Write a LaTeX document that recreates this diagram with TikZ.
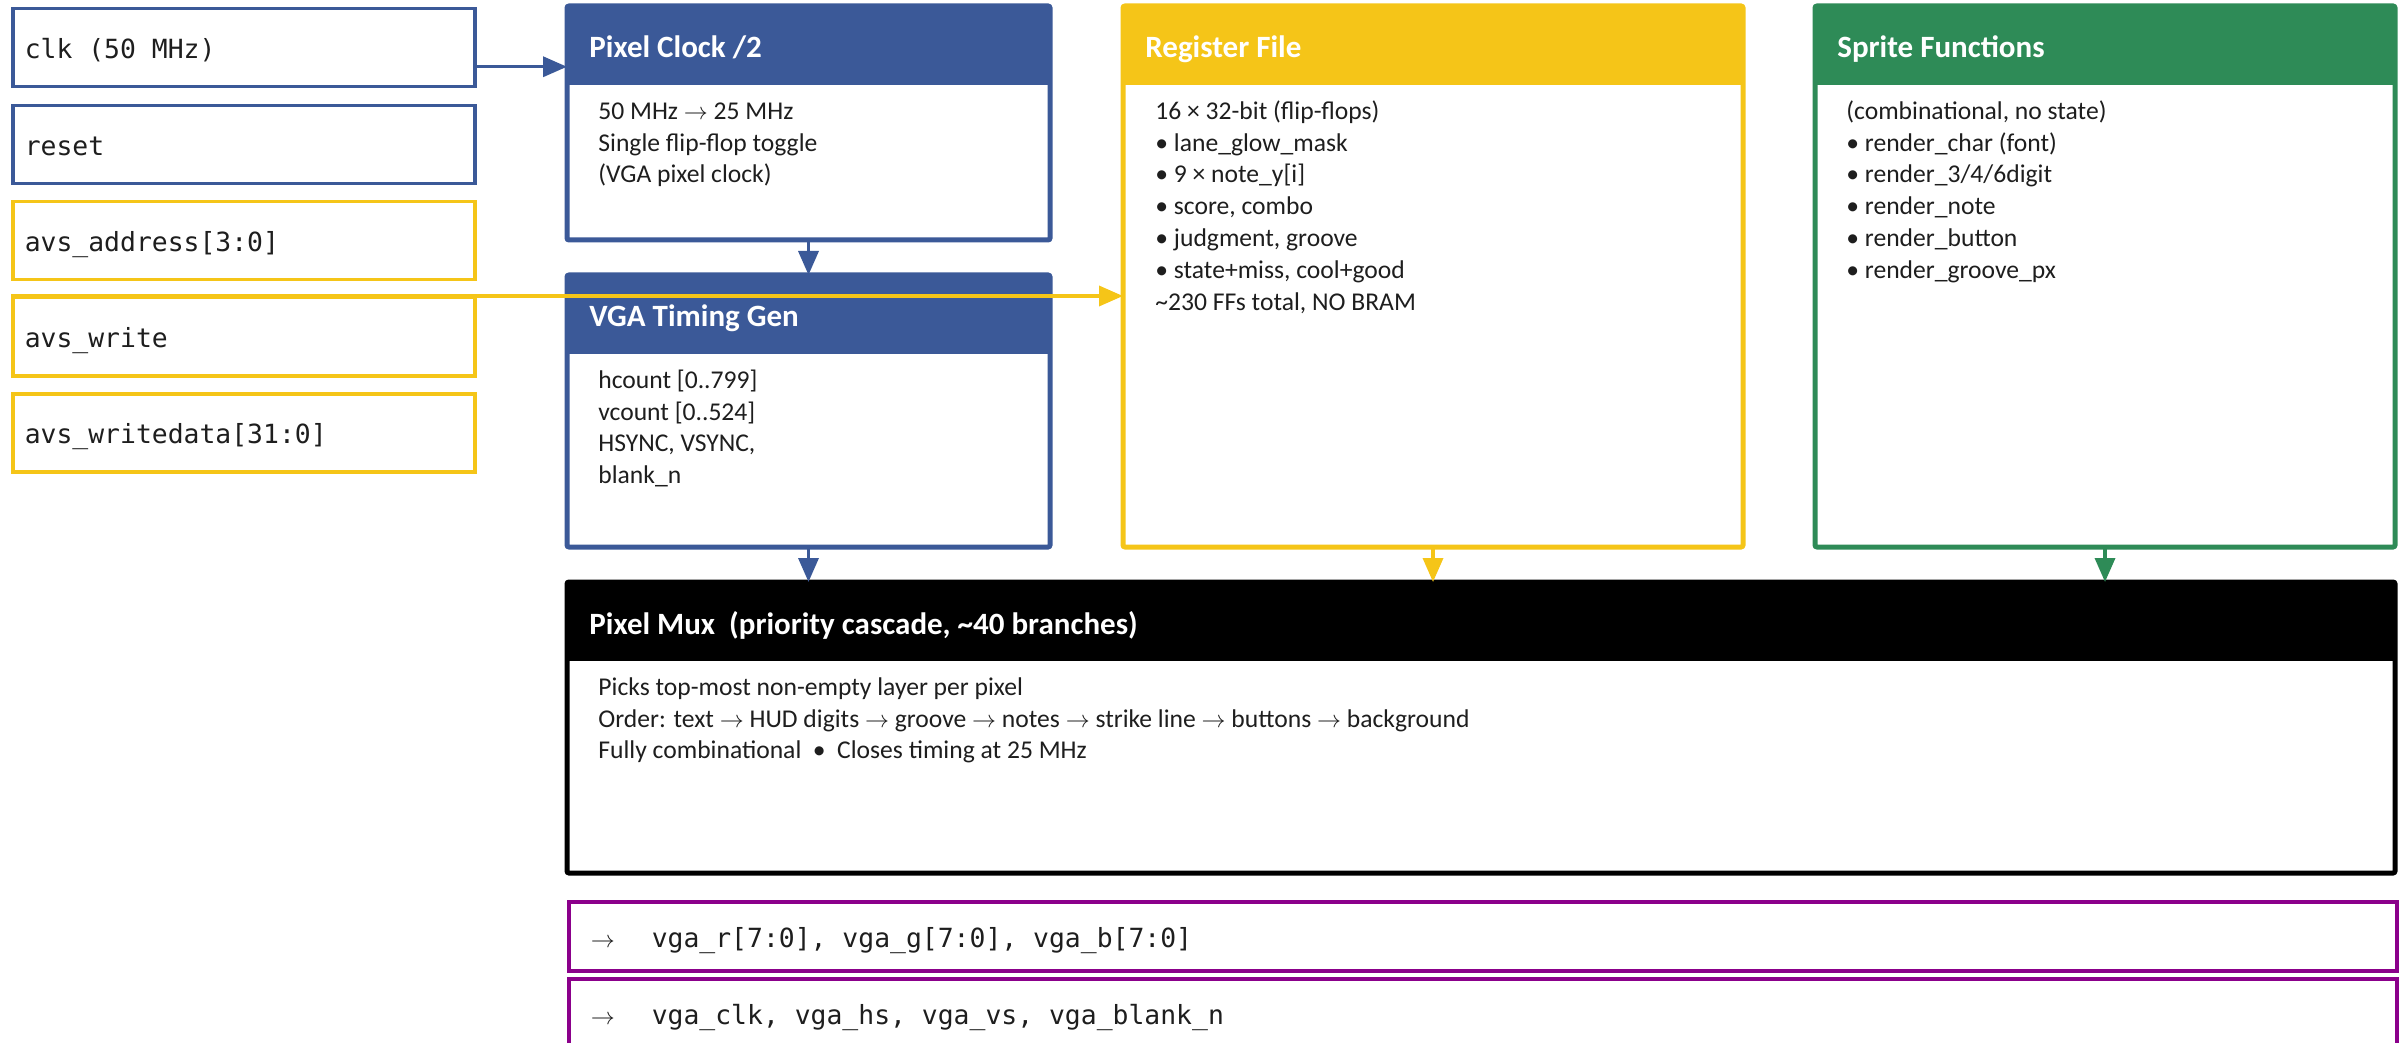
\documentclass[tikz,border=0pt]{standalone}
\usepackage{fontspec}
\setmainfont{Carlito}
\newfontfamily\codefont{DejaVu Sans Mono}
\usetikzlibrary{arrows.meta}

\definecolor{clkblue}{RGB}{59,89,152}
\definecolor{regyellow}{RGB}{245,197,24}
\definecolor{spritegreen}{RGB}{46,139,87}
\definecolor{outpurple}{RGB}{139,0,139}
\definecolor{inkgray}{RGB}{30,30,30}

\newcommand{\titlefont}{\fontsize{15.5pt}{18pt}\selectfont\bfseries}
\newcommand{\bodyfont}{\fontsize{12.8pt}{15.9pt}\selectfont}
\newcommand{\portfont}{\codefont\fontsize{13.2pt}{16pt}\selectfont}
% one full character cell of the mono font
\newcommand{\msp}{\hspace*{0.602em}}
\newcommand{\outarrow}{\makebox[30.5pt][l]{$\rightarrow$}}

\begin{document}
\begin{tikzpicture}[x=0.5pt, y=0.5pt,
    block/.style={draw=#1, line width=2.5pt, rounded corners=1pt, fill=white,
      inner sep=0pt, outer sep=0pt, anchor=north west},
    title/.style={text=white, font=\titlefont, anchor=base west, inner sep=0pt},
    body/.style={text=inkgray, font=\bodyfont, align=left, anchor=north west, inner sep=0pt},
    port/.style={draw=#1, line width=1.75pt, minimum width=231pt, minimum height=39pt,
      inner xsep=6pt, inner ysep=0pt, text width=219pt, align=left,
      text height=11pt, text depth=0pt, font=\portfont, text=inkgray, anchor=north west},
    outport/.style={port=outpurple, minimum width=914pt, minimum height=34.5pt,
      inner xsep=11pt, text width=892pt},
    link/.style={draw=#1, line width=1.75pt, -{Triangle[length=12pt, width=10pt]}}
  ]

    % --- Page frame ---
    \useasboundingbox (0,0) rectangle (2404,-1043);
    \clip (0,0) rectangle (2404,-1043);

    % --- Input ports ---
    \node[port=clkblue]   (clk)   at (11,-7)   {clk\msp(50\msp MHz)};
    \node[port=clkblue]   (rst)   at (11,-104) {reset};
    \node[port=regyellow] (addr)  at (11,-200) {avs\_address[3:0]};
    \node[port=regyellow] (wr)    at (11,-296) {avs\_write};
    \node[port=regyellow] (wdata) at (11,-392) {avs\_writedata[31:0]};

    % --- Pixel clock divider ---
    \node[block=clkblue, minimum width=241.5pt, minimum height=117pt] (pclk) at (567,-6) {};
    \fill[clkblue] (pclk.north west) rectangle ([yshift=-39.5pt]pclk.north east);
    \node[title] (pclk-title) at ([shift={(22,-52)}]pclk.north west) {Pixel Clock /2};
    \node[body] (pclk-body) at ([shift={(31,-90.7)}]pclk.north west)
      {\strut 50 MHz $\rightarrow$ 25 MHz\\Single flip-flop toggle\\(VGA pixel clock)};

    % --- VGA timing ---
    \node[block=clkblue, minimum width=241.5pt, minimum height=136pt] (vga) at (567,-275) {};
    \fill[clkblue] (vga.north west) rectangle ([yshift=-39.5pt]vga.north east);
    \node[title] (vga-title) at ([shift={(22,-52)}]vga.north west) {VGA Timing Gen};
    \node[body] (vga-body) at ([shift={(31,-90.7)}]vga.north west)
      {\strut hcount [0..799]\\vcount [0..524]\\HSYNC, VSYNC,\\blank\_n};

    % --- Register file ---
    \node[block=regyellow, minimum width=310pt, minimum height=270.5pt] (regf) at (1123,-6) {};
    \fill[regyellow] (regf.north west) rectangle ([yshift=-39.5pt]regf.north east);
    \node[title] (regf-title) at ([shift={(22,-52)}]regf.north west) {Register File};
    \node[body] (regf-body) at ([shift={(32,-90.7)}]regf.north west)
      {\strut 16 × 32-bit (flip-flops)\\• lane\_glow\_mask\\• 9 × note\_y[i]\\• score, combo\\%
       • judgment, groove\\• state+miss, cool+good\\\textasciitilde230 FFs total, NO BRAM};

    % --- Sprite functions ---
    \node[block=spritegreen, minimum width=290pt, minimum height=270.5pt] (sprite) at (1815,-6) {};
    \fill[spritegreen] (sprite.north west) rectangle ([yshift=-39.5pt]sprite.north east);
    \node[title] (sprite-title) at ([shift={(22,-52)}]sprite.north west) {Sprite Functions};
    \node[body] (sprite-body) at ([shift={(31,-90.7)}]sprite.north west)
      {\strut (combinational, no state)\\• render\_char (font)\\• render\_3/4/6digit\\%
       • render\_note\\• render\_button\\• render\_groove\_px};

    % --- Pixel mux ---
    \node[block=black, minimum width=914pt, minimum height=145.5pt] (mux) at (567,-582) {};
    \fill[black] (mux.north west) rectangle ([yshift=-39.5pt]mux.north east);
    \node[title] (mux-title) at ([shift={(22,-52)}]mux.north west)
      {Pixel Mux\ \ (priority cascade, \textasciitilde40 branches)};
    \node[body] (mux-body) at ([shift={(31,-90.7)}]mux.north west)
      {\strut Picks top-most non-empty layer per pixel\\%
       Order: text $\rightarrow$ HUD digits $\rightarrow$ groove $\rightarrow$ notes
       $\rightarrow$ strike line $\rightarrow$ buttons $\rightarrow$ background\\%
       Fully combinational\ \ •\ \ Closes timing at 25 MHz};

    % --- Output ports ---
    \node[outport] (rgb)  at (567,-900)
      {\outarrow vga\_r[7:0],\msp vga\_g[7:0],\msp vga\_b[7:0]};
    \node[outport] (sync) at (567,-977)
      {\outarrow vga\_clk,\msp vga\_hs,\msp vga\_vs,\msp vga\_blank\_n};

    % --- Connections ---
    % clock enters the divider header
    \coordinate (clk-out) at ([yshift=-9.5pt]clk.east);
    \draw[link=clkblue] (clk-out) -- (clk-out -| pclk.west);

    % bus write runs over the timing block into the registers
    \draw[link=regyellow] (wr.north west) -- (wr.north west -| regf.west);

    \draw[link=clkblue] (pclk.south) -- (vga.north);
    \draw[link=clkblue] (vga.south) -- (vga.south |- mux.north);
    \draw[link=regyellow] (regf.south) -- (regf.south |- mux.north);
    \draw[link=spritegreen] (sprite.south) -- (sprite.south |- mux.north);

\end{tikzpicture}
\end{document}
